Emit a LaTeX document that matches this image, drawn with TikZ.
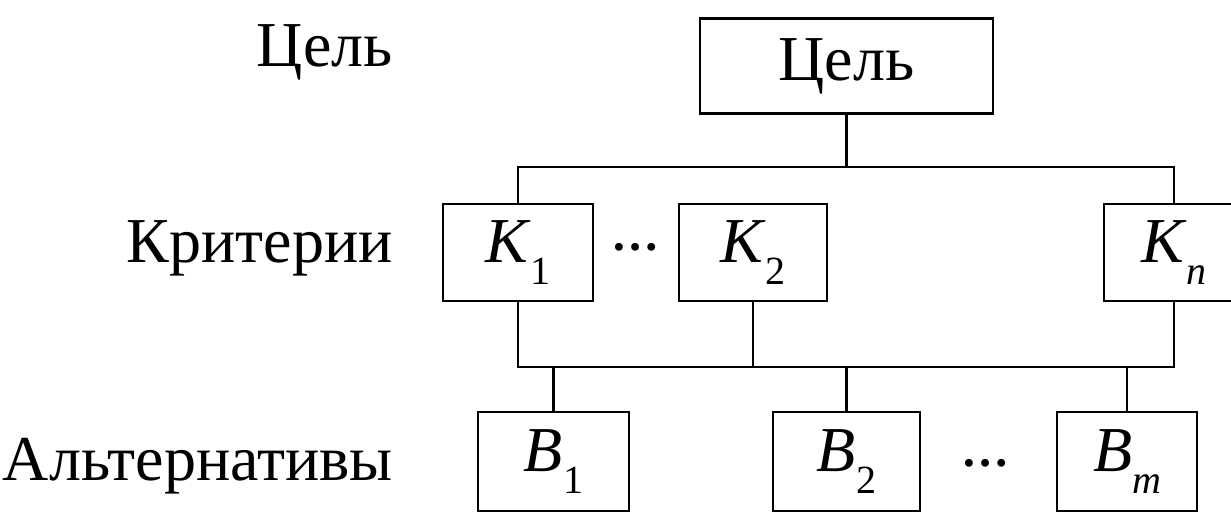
\documentclass[tikz,border=0pt]{standalone}
\usepackage{fontspec}
\setmainfont{Liberation Serif}
\newcommand\lowsub[1]{\raisebox{-11pt}{\fontsize{20}{20}\selectfont #1}}
\begin{document}
\begin{tikzpicture}[x=0.5pt,y=-0.5pt,
  box/.style={draw, line width=1.2pt, inner sep=0pt, font=\fontsize{32}{38}\selectfont},
  lbl/.style={anchor=base east, inner sep=0pt, font=\fontsize{32}{38}\selectfont},
  dotsl/.style={anchor=base, inner sep=0pt, font=\bfseries\fontsize{24}{28}\selectfont},
  wire/.style={line width=1.2pt}]
\useasboundingbox (0,0) rectangle (1231,526);
\clip (0,0) rectangle (1231,526);
\fill[white] (0,0) rectangle (1231,526);

% boxes
\node[box, minimum width=146.5pt, minimum height=47.5pt] (goal) at (846.5,66) {Цель};
\node[box, minimum width=75pt, minimum height=48.5pt] (K1) at (518,252.5) {\textit{K}\lowsub{1}};
\node[box, minimum width=74pt, minimum height=48.5pt] (K2) at (753,252.5) {\textit{K}\lowsub{2}};
\node[box, minimum width=70pt, minimum height=48.5pt] (Kn) at (1174,252.5) {\textit{K}\lowsub{\textit{n}}};
\node[box, minimum width=75.5pt, minimum height=49.5pt] (B1) at (553.5,461.5) {\textit{B}\lowsub{1}};
\node[box, minimum width=73.5pt, minimum height=49.5pt] (B2) at (846.5,461.5) {\textit{B}\lowsub{2}};
\node[box, minimum width=70pt, minimum height=49.5pt] (Bm) at (1127,461.5) {\textit{B}\lowsub{\textit{m}}};

% dots
\node[dotsl] (d1) at (635,250) {…};
\node[dotsl] (d2) at (985,466) {…};

% row labels
\node[lbl] (l1) at (393,66) {Цель};
\node[lbl] (l2) at (393,262) {Критерии};
\node[lbl] (l3) at (393,480) {Альтернативы};

% buses
\coordinate (bus1) at (0,167);
\coordinate (bus2) at (0,367);

\draw[wire] (goal.south) -- (goal.south |- bus1);
\draw[wire] (K1.north) -- (K1.north |- bus1) -| (Kn.north);
\draw[wire] (K1.south) -- (K1.south |- bus2) -| (Kn.south);
\draw[wire] (K2.south) -- (K2.south |- bus2);
\draw[wire] (B1.north) -- (B1.north |- bus2);
\draw[wire] (B2.north) -- (B2.north |- bus2);
\draw[wire] (Bm.north) -- (Bm.north |- bus2);
\end{tikzpicture}
\end{document}
